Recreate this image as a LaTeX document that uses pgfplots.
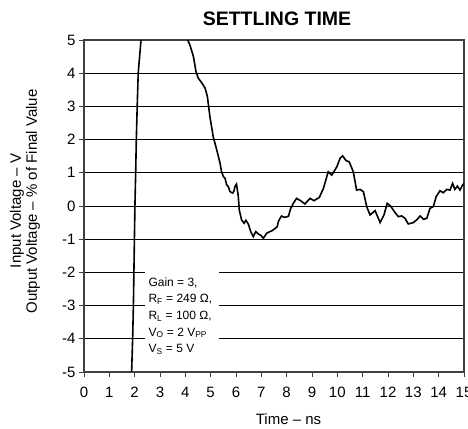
\documentclass[border=0pt]{standalone}
\usepackage{fontspec}
\setmainfont{Liberation Sans}
\usepackage{pgfplots}
\pgfplotsset{compat=1.18}
\begin{document}
\begin{tikzpicture}
\useasboundingbox (0,0) rectangle (468bp,429bp);
\begin{axis}[
  at={(84bp,57bp)}, anchor=south west,
  scale only axis, width=380bp, height=332bp,
  xmin=0, xmax=15, ymin=-5, ymax=5,
  xtick={0,1,...,15},
  xticklabels={0,1,2,3,4,5,6,7,8,9,10,11,12,13,14,15},
  ytick={-5,-4,...,5},
  yticklabels={-5,-4,-3,-2,-1,0,1,2,3,4,5},
  xtick pos=left, ytick pos=left,
  tick align=outside, major tick length=5bp,
  ymajorgrids,
  grid style={black, line width=0.8bp},
  axis line style={black!75, line width=1.2bp},
  tick style={black!75, line width=1bp},
  ticklabel style={font=\fontsize{15bp}{18bp}\selectfont},
  xticklabel style={yshift=-7bp},
]
\addplot[black, line width=1.6bp] coordinates {
(1.88,-5) (1.92,-4) (1.95,-3) (1.97,-2) (1.99,-1) (2.01,0) (2.04,1) (2.065,2) (2.10,3) (2.14,4) (2.25,5)
};
\addplot[black, line width=1.6bp] coordinates {
(4.09,5.00) (4.18,4.85) (4.32,4.50) (4.42,4.05) (4.51,3.85) (4.64,3.72) (4.78,3.55) (4.87,3.30)
(4.97,2.69) (5.10,2.09) (5.24,1.69) (5.37,1.29) (5.43,1.03) (5.50,0.89) (5.57,0.83) (5.63,0.64)
(5.70,0.58) (5.76,0.44) (5.83,0.40) (5.87,0.39) (5.92,0.45) (5.96,0.59) (6.02,0.66) (6.06,0.45)
(6.09,0.29) (6.13,-0.12) (6.22,-0.42) (6.32,-0.52) (6.39,-0.43) (6.49,-0.55) (6.58,-0.77) (6.68,-0.92)
(6.78,-0.77) (6.88,-0.84) (6.99,-0.89) (7.08,-0.97) (7.17,-0.87) (7.21,-0.82) (7.34,-0.77) (7.41,-0.75)
(7.54,-0.68) (7.63,-0.62) (7.67,-0.47) (7.74,-0.37) (7.80,-0.30) (7.84,-0.32) (7.93,-0.34) (8.07,-0.31)
(8.16,-0.07) (8.20,-0.02) (8.26,0.08) (8.39,0.23) (8.55,0.16) (8.72,0.06) (8.92,0.23) (9.08,0.16)
(9.29,0.26) (9.45,0.53) (9.64,1.03) (9.78,0.93) (9.98,1.18) (10.11,1.44) (10.21,1.51) (10.34,1.37)
(10.47,1.33) (10.63,1.03) (10.76,0.48) (10.90,0.50) (11.03,0.43) (11.16,-0.02) (11.29,-0.27) (11.49,-0.14)
(11.69,-0.50) (11.84,-0.27) (11.97,0.08) (12.10,0.00) (12.28,-0.20) (12.41,-0.32) (12.54,-0.30) (12.67,-0.37)
(12.80,-0.54) (13.00,-0.50) (13.13,-0.42) (13.27,-0.30) (13.40,-0.40) (13.53,-0.37) (13.66,-0.07) (13.79,-0.02)
(13.90,0.28) (14.05,0.46) (14.18,0.40) (14.32,0.50) (14.45,0.48) (14.55,0.68) (14.64,0.50) (14.74,0.60)
(14.84,0.48) (14.95,0.64) (15.00,0.68)
};
\fill[white] (axis cs:2.41,-1.78) rectangle (axis cs:5.34,-4.49);
\begin{scope}[every node/.style={anchor=base west, inner sep=0pt, font=\fontsize{12bp}{14bp}\selectfont}]
\node at (axis cs:2.54,-2.41) {Gain = 3,};
\node at (axis cs:2.54,-2.91) {R\textsubscript{F} = 249 Ω,};
\node at (axis cs:2.54,-3.41) {R\textsubscript{L} = 100 Ω,};
\node at (axis cs:2.54,-3.92) {V\textsubscript{O} = 2 V\textsubscript{PP}};
\node at (axis cs:2.54,-4.42) {V\textsubscript{S} = 5 V};
\end{scope}
\end{axis}
\node[font=\bfseries\fontsize{19.5bp}{22bp}\selectfont] at (277bp,410.3bp) {SETTLING TIME};
\node[font=\fontsize{15bp}{18bp}\selectfont] at (288.5bp,10bp) {Time – ns};
\node[rotate=90, font=\fontsize{15bp}{18bp}\selectfont] at (17bp,218bp) {Input Voltage – V};
\node[rotate=90, font=\fontsize{15bp}{18bp}\selectfont] at (33bp,227.5bp) {Output Voltage – \% of Final Value};
\end{tikzpicture}
\end{document}
